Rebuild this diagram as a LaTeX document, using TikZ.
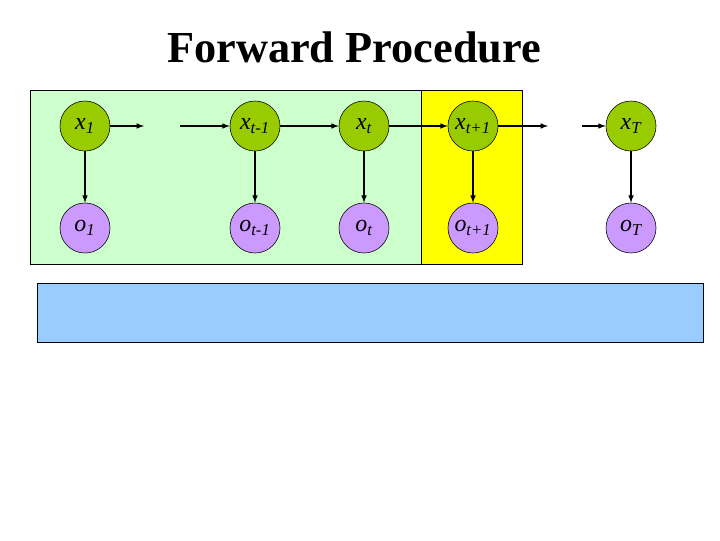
\documentclass[tikz,border=0pt]{standalone}
\usepackage{fontspec}
\setmainfont{Liberation Serif}
\usetikzlibrary{arrows}
\usetikzlibrary{positioning}
\definecolor{panelgreen}{HTML}{CCFFCC}
\definecolor{panelyellow}{HTML}{FFFF00}
\definecolor{panelblue}{HTML}{99CCFF}
\definecolor{stategreen}{HTML}{99CC00}
\definecolor{obspurple}{HTML}{CC99FF}
\tikzset{hidden/.style={circle,draw=black!100,fill=stategreen,minimum size=1.25cm,inner sep=0pt,font=\fontsize{17}{17}\selectfont\itshape}}
\tikzset{observed/.style={circle,draw=black!100,fill=obspurple,minimum size=1.25cm,inner sep=0pt,font=\fontsize{17}{17}\selectfont\itshape}}
\tikzset{panel/.style={draw=black!100,line width=0.6pt}}
\tikzset{link/.style={-latex,thick}}

\begin{document}
\begin{tikzpicture}[x=0.025cm,y=-0.025cm]
\useasboundingbox (0,0) rectangle (720,540);

\node (title) at (354,47) {\fontsize{31.5}{33}\selectfont\bfseries Forward Procedure};

% shaded panels
\draw[panel,fill=panelgreen] (30,90) rectangle (421,264);
\draw[panel,fill=panelyellow] (421,90) rectangle (522,264);
\draw[panel,fill=panelblue] (37,283) rectangle (703,342);

\foreach \i / \px / \s in {1/85/1,2/255/t-1,3/364/t,4/473/t+1,5/631/T}
{
	\node[hidden] (X\i) at (\px,126) {x\textsubscript{\s}};
	\node[observed] (O\i) at (\px,228) {o\textsubscript{\s}};
	\draw[link] (X\i) -- (O\i);
}

\foreach \i / \j in {2/3,3/4}
{
	\draw[link] (X\i) -- (X\j);
}

% broken chain
\coordinate (gapA) at (144,126);
\coordinate (gapB) at (180,126);
\coordinate (gapC) at (548,126);
\coordinate (gapD) at (582,126);
\draw[link] (X1) -- (gapA);
\draw[link] (gapB) -- (X2);
\draw[link] (X4) -- (gapC);
\draw[link] (gapD) -- (X5);

\end{tikzpicture}
\end{document}
